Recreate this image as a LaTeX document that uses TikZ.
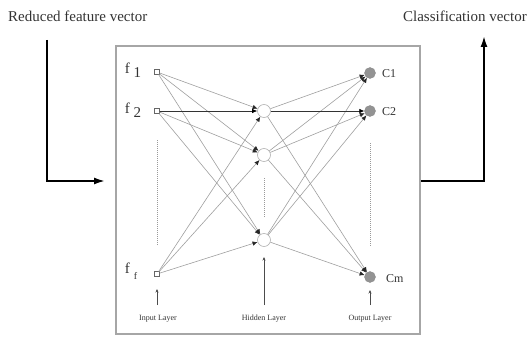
\documentclass[tikz,border=0pt]{standalone}
\usepackage{fontspec}
\setmainfont{Liberation Serif}
\usetikzlibrary{arrows.meta}
\begin{document}
\begin{tikzpicture}[x=1pt,y=-1pt,
  inp/.style={draw=gray!80!black,fill=white,minimum size=4.5pt,inner sep=0pt,line width=0.7pt},
  hid/.style={circle,draw=gray!60,fill=white,minimum size=13pt,inner sep=0pt,line width=0.6pt},
  outn/.style={circle,fill=gray!85,draw=gray!90,minimum size=11pt,inner sep=0pt},
  conn/.style={draw=gray!75,line width=0.6pt,-{Latex[length=5pt,width=4.5pt,black!85]}},
  darkconn/.style={draw=black!80,line width=0.7pt,-{Latex[length=5pt,width=4.5pt,black]}},
  bigarrow/.style={draw=black,line width=1.8pt,-{Latex[length=11pt,width=7pt]}},
  dotcol/.style={draw=gray!80,dashed,dash pattern=on 1pt off 1pt,line width=0.7pt},
  lbl/.style={font=\fontsize{15}{15}\selectfont,text=gray!40!black,inner sep=0pt},
  layer/.style={font=\fontsize{8}{8}\selectfont,text=black!80,inner sep=0pt},
  flbl/.style={font=\fontsize{15}{15}\selectfont,text=black!80,inner sep=0pt},
  clbl/.style={font=\fontsize{12}{12}\selectfont,text=black!80,inner sep=0pt},
  small/.style={draw=black!70,line width=0.6pt,-{Stealth[length=3.5pt,width=3pt]}}
]
\useasboundingbox (0,0) rectangle (528,337);
% frame
\node[draw=gray!70,line width=1.5pt,minimum width=304pt,minimum height=288pt,inner sep=0pt] (frame) at (268,190) {};
% titles
\node[lbl,anchor=west] (t1) at (8,16) {Reduced feature vector};
\node[lbl,anchor=east] (t2) at (527,16) {Classification vector};
% big arrows
\coordinate (la) at (47,40);
\coordinate (lb) at (47,181);
\coordinate (lc) at (105,181);
\draw[bigarrow] (la) -- (lb) -- (lc);
\coordinate (ra) at (421,181);
\coordinate (rb) at (484,181);
\coordinate (rc) at (484,36);
\draw[bigarrow] (ra) -- (rb) -- (rc);
% input nodes
\node[inp] (f1) at (157,72) {};
\node[inp] (f2) at (157,111) {};
\node[inp] (ff) at (157,274) {};
\node[flbl] (lf1) at (133,70) {f\hspace{4pt}\raisebox{-4pt}{1}};
\node[flbl] (lf2) at (133,110) {f\hspace{4pt}\raisebox{-4pt}{2}};
\node[flbl] (lff) at (131,271) {f\hspace{4pt}\raisebox{-6pt}{\fontsize{10}{10}\selectfont f}};
% hidden nodes
\node[hid] (h1) at (264,111) {};
\node[hid] (h2) at (264,155) {};
\node[hid] (h3) at (264,240) {};
% output nodes
\node[outn] (c1) at (370,73) {};
\node[outn] (c2) at (370,111) {};
\node[outn] (cm) at (370,277) {};
\node[clbl,anchor=west] (lc1) at (382,74) {C1};
\node[clbl,anchor=west] (lc2) at (382,112) {C2};
\node[clbl,anchor=west] (lcm) at (386,279) {Cm};
% dotted columns
\coordinate (d1a) at (157,140); \coordinate (d1b) at (157,245);
\coordinate (d2a) at (264,178); \coordinate (d2b) at (264,218);
\coordinate (d3a) at (370,143); \coordinate (d3b) at (370,246);
\draw[dotcol] (d1a) -- (d1b);
\draw[dotcol] (d2a) -- (d2b);
\draw[dotcol] (d3a) -- (d3b);
% connections input -> hidden
\foreach \s in {f1,ff} \foreach \t in {h1,h2,h3} \draw[conn] (\s) -- (\t);
\draw[darkconn] (f2) -- (h1);
\draw[conn] (f2) -- (h2);
\draw[conn] (f2) -- (h3);
% hidden -> output
\foreach \s in {h2,h3} \foreach \t in {c1,c2,cm} \draw[conn] (\s) -- (\t);
\draw[conn] (h1) -- (c1);
\draw[darkconn] (h1) -- (c2);
\draw[conn] (h1) -- (cm);
% layer labels
\node[layer] (li) at (158,319) {Input Layer};
\node[layer] (lh) at (264,319) {Hidden Layer};
\node[layer] (lo) at (370,319) {Output Layer};
\coordinate (ai) at (157,305); \coordinate (ai2) at (157,289);
\coordinate (ah) at (264,305); \coordinate (ah2) at (264,257);
\coordinate (ao) at (370,305); \coordinate (ao2) at (370,290);
\draw[small] (ai) -- (ai2);
\draw[small] (ah) -- (ah2);
\draw[small] (ao) -- (ao2);
\end{tikzpicture}
\end{document}
